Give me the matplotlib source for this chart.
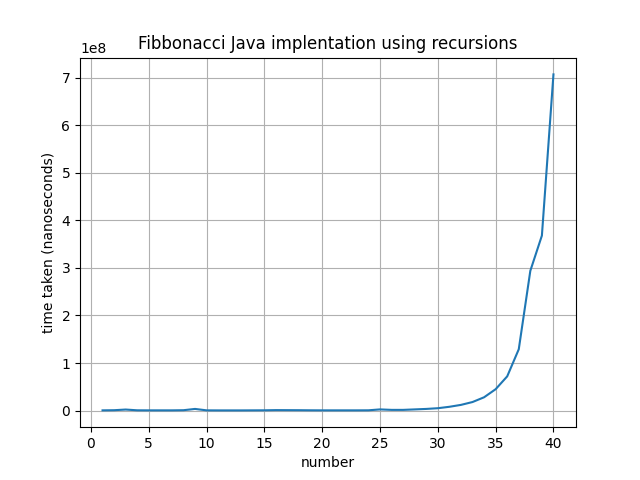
import matplotlib
matplotlib.use("Agg")
import matplotlib.pyplot as plt

# number -> time taken (ns)
numbers = list(range(1, 41))
times = [
    0.5e6, 0.8e6, 2.2e6, 0.6e6, 0.5e6, 0.5e6, 0.5e6, 0.8e6, 3.5e6, 0.5e6,
    0.4e6, 0.4e6, 0.4e6, 0.5e6, 0.6e6, 1.0e6, 0.9e6, 0.8e6, 0.6e6, 0.5e6,
    0.5e6, 0.5e6, 0.5e6, 0.6e6, 2.5e6, 1.5e6, 1.5e6, 2.5e6, 3.5e6, 5.0e6,
    8.0e6, 12.0e6, 18.0e6, 28.0e6, 45.0e6, 72.0e6, 129.0e6, 294.0e6, 368.0e6, 707.0e6,
]

plt.figure(figsize=(6.4, 4.8), dpi=100)
plt.plot(numbers, times)
plt.title("Fibbonacci Java implentation using recursions")
plt.xlabel("number")
plt.ylabel("time taken (nanoseconds)")
plt.grid()
plt.savefig("out.png")
